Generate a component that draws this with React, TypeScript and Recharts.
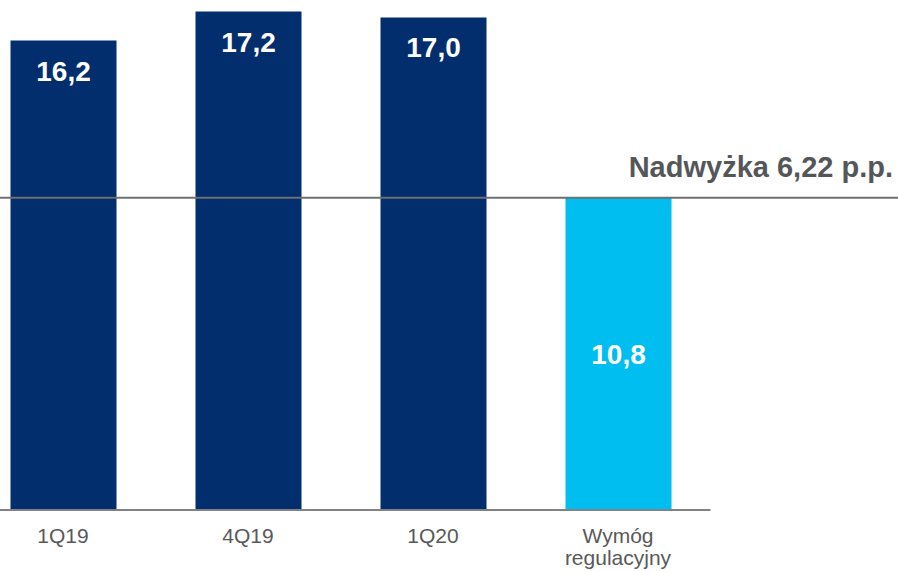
import React from 'react';
import { BarChart, Bar, XAxis, YAxis, Cell, LabelList, ReferenceLine } from 'recharts';

const categories = ['1Q19', '4Q19', '1Q20', 'Wymóg regulacyjny'];
const ratios = [16.2, 17.2, 17.0, 10.78];
const requirement = 10.78;
const surplusLabel = 'Nadwyżka 6,22 p.p.';

const NAVY = '#022E6E';
const CYAN = '#00BEF0';
const barColors = [NAVY, NAVY, NAVY, CYAN];

const data = categories.map((c, i) => ({ name: c, value: ratios[i] }));

const FONT = '"Liberation Sans", Arial, sans-serif';
const fmt = (v: number) => v.toFixed(1).replace('.', ',');

const CategoryTick = (props: any) => {
  const { x, y, payload } = props;
  const lines = String(payload.value).split(' ');
  return (
    <text x={x} y={y + 33} textAnchor="middle" fill="#595959" fontFamily={FONT} fontSize={21}>
      {lines.map((l: string, i: number) => (
        <tspan key={i} x={x} dy={i === 0 ? 0 : 22}>
          {l}
        </tspan>
      ))}
    </text>
  );
};

const BarValueLabel = (props: any) => {
  const { x, y, width, height, value, index } = props;
  const cx = x + width / 2;
  const isLast = index === data.length - 1;
  const ty = isLast ? y + height / 2 + 10 : y + 40;
  return (
    <text x={cx} y={ty} textAnchor="middle" fill="#ffffff" fontFamily={FONT} fontWeight="bold" fontSize={28}>
      {fmt(Number(value))}
    </text>
  );
};

const SurplusLine = (props: any) => {
  const yy = props.y1;
  return (
    <g>
      <line x1={0} x2={898} y1={yy} y2={yy} stroke="#6D6F72" strokeWidth={2} />
      <text x={893} y={yy - 21} textAnchor="end" fill="#54575A" fontFamily={FONT} fontWeight="bold" fontSize={29}>
        {surplusLabel}
      </text>
    </g>
  );
};

export default function App() {
  return (
    <div style={{ position: 'absolute', left: 0, top: 0 }}>
      <BarChart
        width={898}
        height={572}
        data={data}
        margin={{ top: 0, right: 187.5, left: -29.5, bottom: 0 }}
        barSize={106}
      >
        <YAxis hide domain={[0, 17.6]} type="number" />
        <XAxis
          dataKey="name"
          height={62}
          tickLine={false}
          tickSize={0}
          tickMargin={0}
          interval={0}
          axisLine={{ stroke: '#808285', strokeWidth: 2 }}
          tick={<CategoryTick />}
        />
        <Bar dataKey="value" isAnimationActive={false}>
          {data.map((_, i) => (
            <Cell key={i} fill={barColors[i]} />
          ))}
          <LabelList dataKey="value" content={<BarValueLabel />} />
        </Bar>
        <ReferenceLine y={requirement} shape={<SurplusLine />} />
      </BarChart>
    </div>
  );
}
